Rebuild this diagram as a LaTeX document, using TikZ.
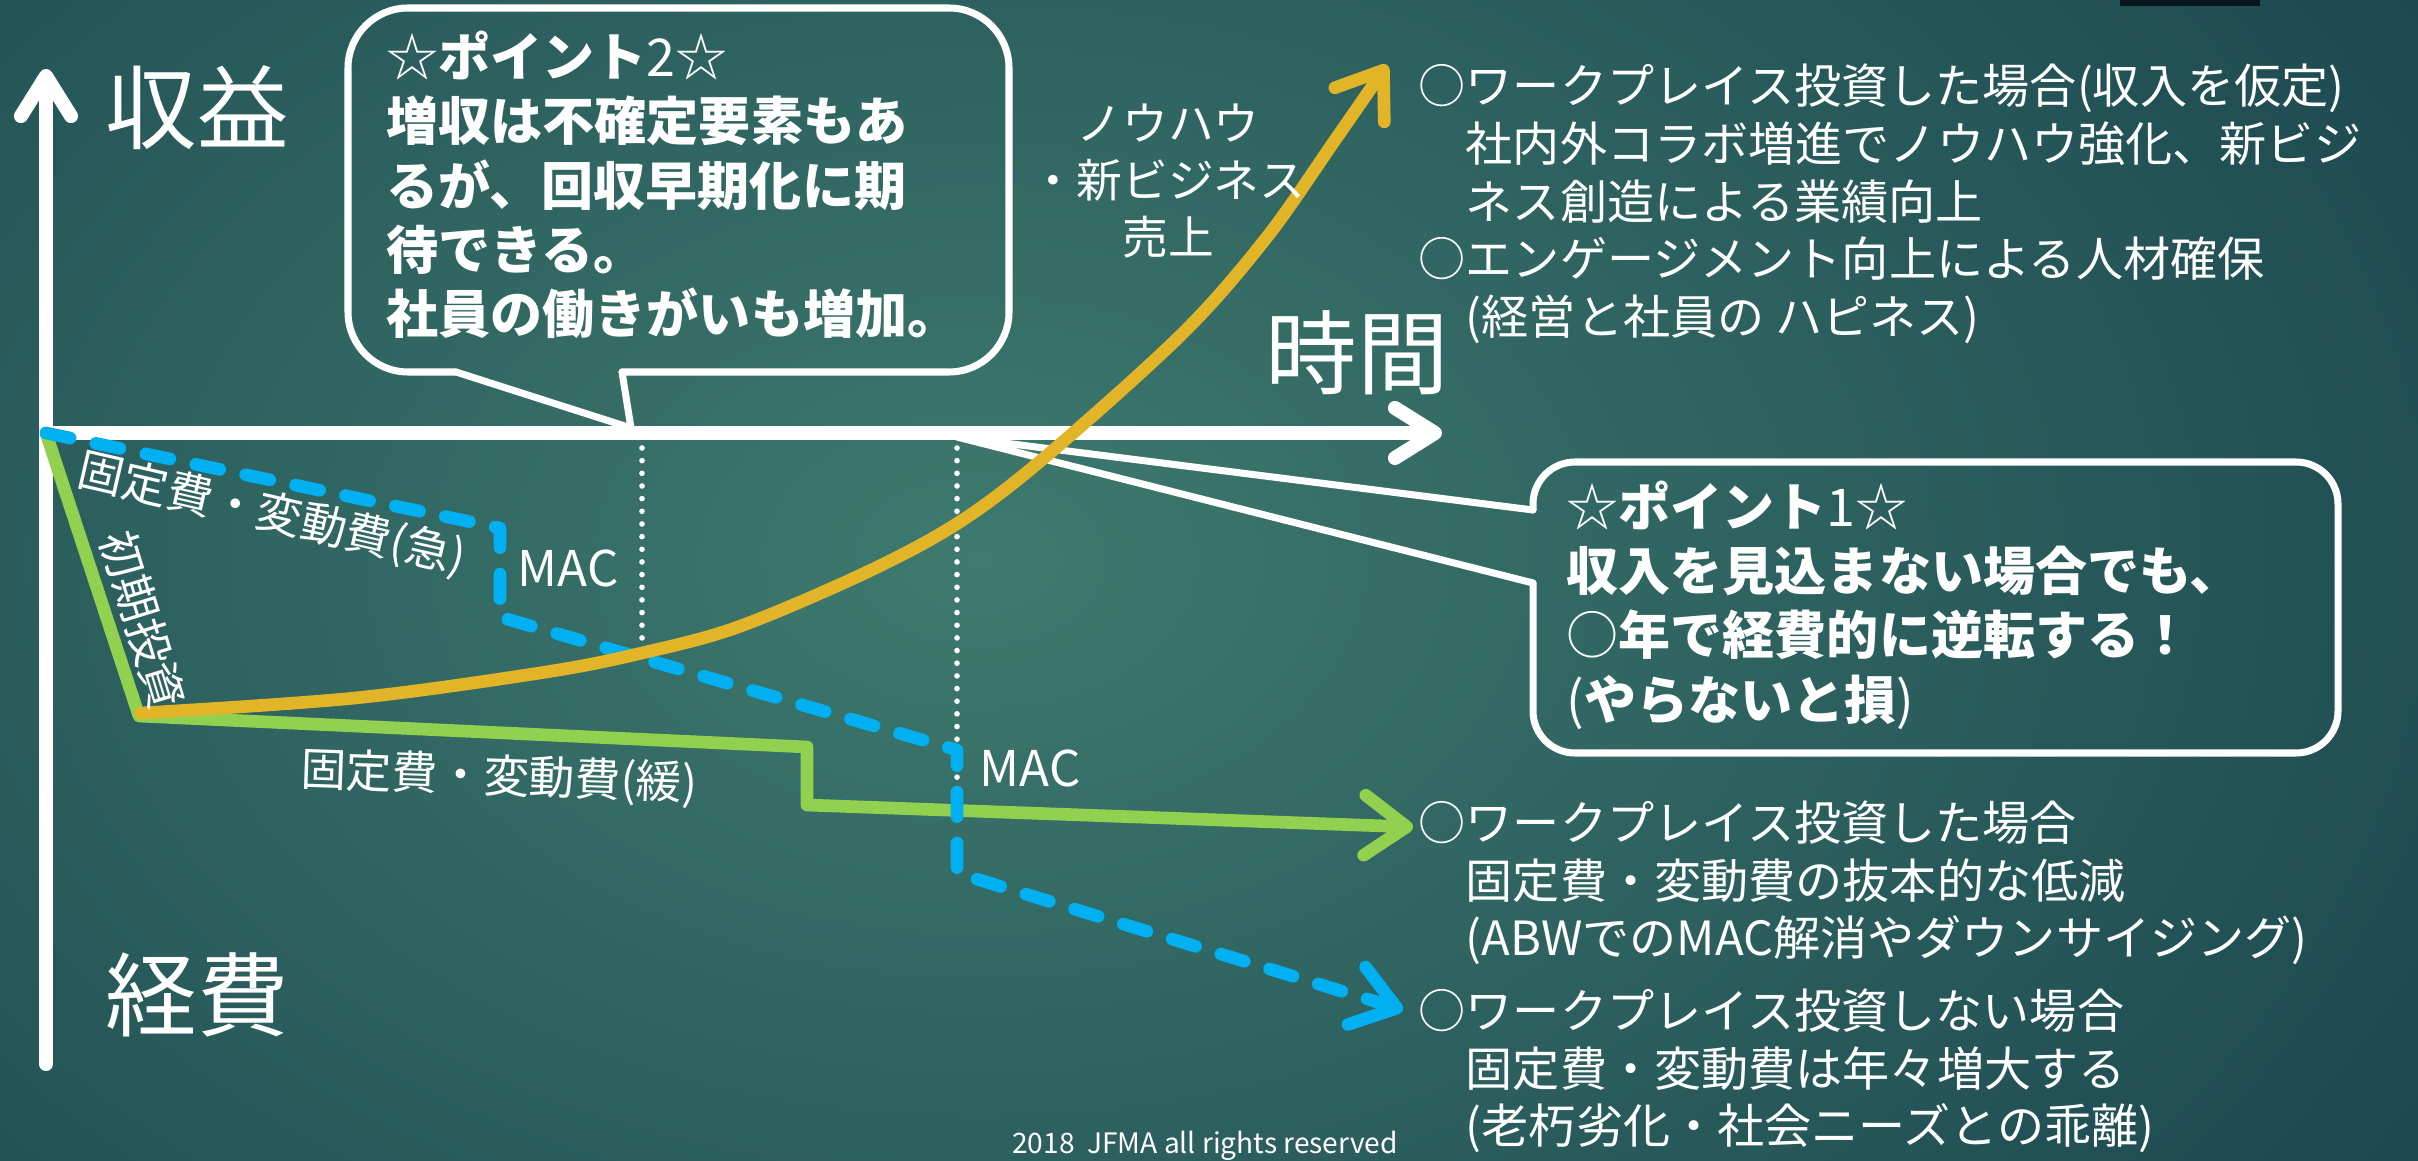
\documentclass[tikz,border=0pt]{standalone}
\usepackage{fontspec}
\newfontfamily\jp{Noto Sans CJK JP}
\usetikzlibrary{arrows.meta}
\definecolor{bgdark}{RGB}{17,56,70}
\definecolor{bglight}{RGB}{62,122,110}
\definecolor{gold}{RGB}{226,181,40}
\definecolor{leaf}{RGB}{146,208,80}
\definecolor{sky}{RGB}{0,176,240}
\tikzset{
  axisline/.style={white,line width=4pt,line cap=round,
    -{Straight Barb[length=0.4cm,width=0.5cm,round]}}, % axes
  guide/.style={white,line width=1.6pt,line cap=round,dash pattern=on 0pt off 3.6pt}, % dotted
  bubble/.style={white,line width=2pt,line join=round,line cap=round},
  costline/.style={line width=3.6pt,line cap=round,line join=round,
    -{Straight Barb[length=0.42cm,width=0.6cm,round]}},
  biglbl/.style={text=white,font=\jp\fontsize{26}{30}\selectfont},
  pointtxt/.style={text=white,inner sep=0pt,anchor=west,align=left,
    font=\jp\bfseries\fontsize{14.8}{18.3}\selectfont},
  sidetxt/.style={text=white,inner sep=0pt,anchor=west,align=left,
    font=\jp\fontsize{13.4}{16.4}\selectfont},
  linelbl/.style={text=white,inner sep=0pt,font=\jp\fontsize{13}{16.2}\selectfont},
}

\begin{document}
\begin{tikzpicture}[x=0.01cm,y=-0.01cm]

  % background
  \useasboundingbox (0,0) rectangle (2418,1161);
  \fill[bgdark] (0,0) rectangle (2418,1161);
  \begin{scope}
    \clip (0,0) rectangle (2418,1161);
    \shade[inner color=bglight,outer color=bgdark] (980,560) ellipse (22cm and 15cm);
  \end{scope}
  \fill[black!60!bgdark] (2120,0) rectangle (2260,6);

  % points of the chart
  \coordinate (O) at (46,433);
  \coordinate (ytip) at (46,69);
  \coordinate (ybot) at (46,1064);
  \coordinate (xtip) at (1442,433);
  \coordinate (g1) at (139,716);
  \coordinate (g2) at (807,747);
  \coordinate (g3) at (807,805);
  \coordinate (gend) at (1413,827);
  \coordinate (b1) at (500,528);
  \coordinate (b2) at (500,617);
  \coordinate (b3) at (957,750);
  \coordinate (b4) at (957,873);
  \coordinate (bend) at (1403,1010);

  % guides and axes
  \draw[guide] (642,448) -- (642,645);
  \draw[guide] (957,448) -- (957,808);
  \draw[axisline] (ybot) -- (ytip);
  \draw[axisline] (O) -- (xtip);

  % call-outs
  \coordinate (tip2) at (631,428);
  \draw[bubble,rounded corners=0.6cm] (456,372) -- (348,372) -- (348,8) -- (1009,8) -- (1009,372) -- (622,372);
  \draw[bubble] (456,372) -- (tip2) -- (622,372);
  \coordinate (tip1) at (957,437);
  \draw[bubble,rounded corners=0.42cm] (1533,583) -- (1533,753) -- (2338,753) -- (2338,462) -- (1533,462) -- (1533,510);
  \draw[bubble] (1533,510) -- (tip1) -- (1533,583);

  % cost and revenue lines
  \draw[costline,leaf] (O) -- (g1) -- (g2) -- (g3) -- (gend);
  \draw[costline,sky,dash pattern=on 7pt off 7.5pt] (O) -- (b1) -- (b2) -- (b3) -- (b4) -- (bend);
  \draw[costline,gold] plot[smooth,tension=0.55] coordinates {(141,713) (355,698) (546,672) (642,653)
    (738,627) (865,573) (958,523) (1044,458) (1183,333) (1267,237) (1333,143) (1387,65)};

  % labels
  \node[biglbl] (rev) at (197,108) {収益};
  \node[biglbl] (cost) at (197,995) {経費};
  \node[biglbl] (time) at (1357,353) {時間};

  \node[pointtxt] (pt2) at (386,185) {{\mdseries ☆}ポイント{\mdseries 2☆}\\増収は不確定要素もあ\\るが、回収早期化に期\\待できる。\\社員の働きがいも増加。};
  \node[pointtxt] (pt1) at (1566,605) {{\mdseries ☆}ポイント{\mdseries 1☆}\\収入を見込まない場合でも、\\{\mdseries ○}年で経費的に逆転する！\\{\mdseries (}やらないと損{\mdseries )}};

  \node[linelbl,align=center] (knowhow) at (1168,181) {ノウハウ\\・新ビジネス\\売上};
  \node[linelbl,rotate=-13] (fastlbl) at (272,515) {固定費・変動費(急)};
  \node[linelbl,rotate=-73] (initlbl) at (143,620) {初期投資};
  \node[linelbl,rotate=-2] (slowlbl) at (499,778) {固定費・変動費(緩)};
  \node[linelbl,font=\jp\fontsize{14}{16}\selectfont] (mac1) at (568,568) {MAC};
  \node[linelbl,font=\jp\fontsize{14}{16}\selectfont] (mac2) at (1030,768) {MAC};

  \node[sidetxt] (caseA) at (1418,204) {○ワークプレイス投資した場合(収入を仮定)\\　社内外コラボ増進でノウハウ強化、新ビジ\\　ネス創造による業績向上\\○エンゲージメント向上による人材確保\\　(経営と社員の ハピネス)};
  \node[sidetxt] (caseB) at (1418,883) {○ワークプレイス投資した場合\\　固定費・変動費の抜本的な低減\\　(ABWでのMAC解消やダウンサイジング)};
  \node[sidetxt] (caseC) at (1418,1071) {○ワークプレイス投資しない場合\\　固定費・変動費は年々増大する\\　(老朽劣化・社会ニーズとの乖離)};

  \node[text=white,font=\jp\fontsize{8}{10}\selectfont] (copy) at (1205,1146) {2018~~JFMA all rights reserved};

\end{tikzpicture}
\end{document}
